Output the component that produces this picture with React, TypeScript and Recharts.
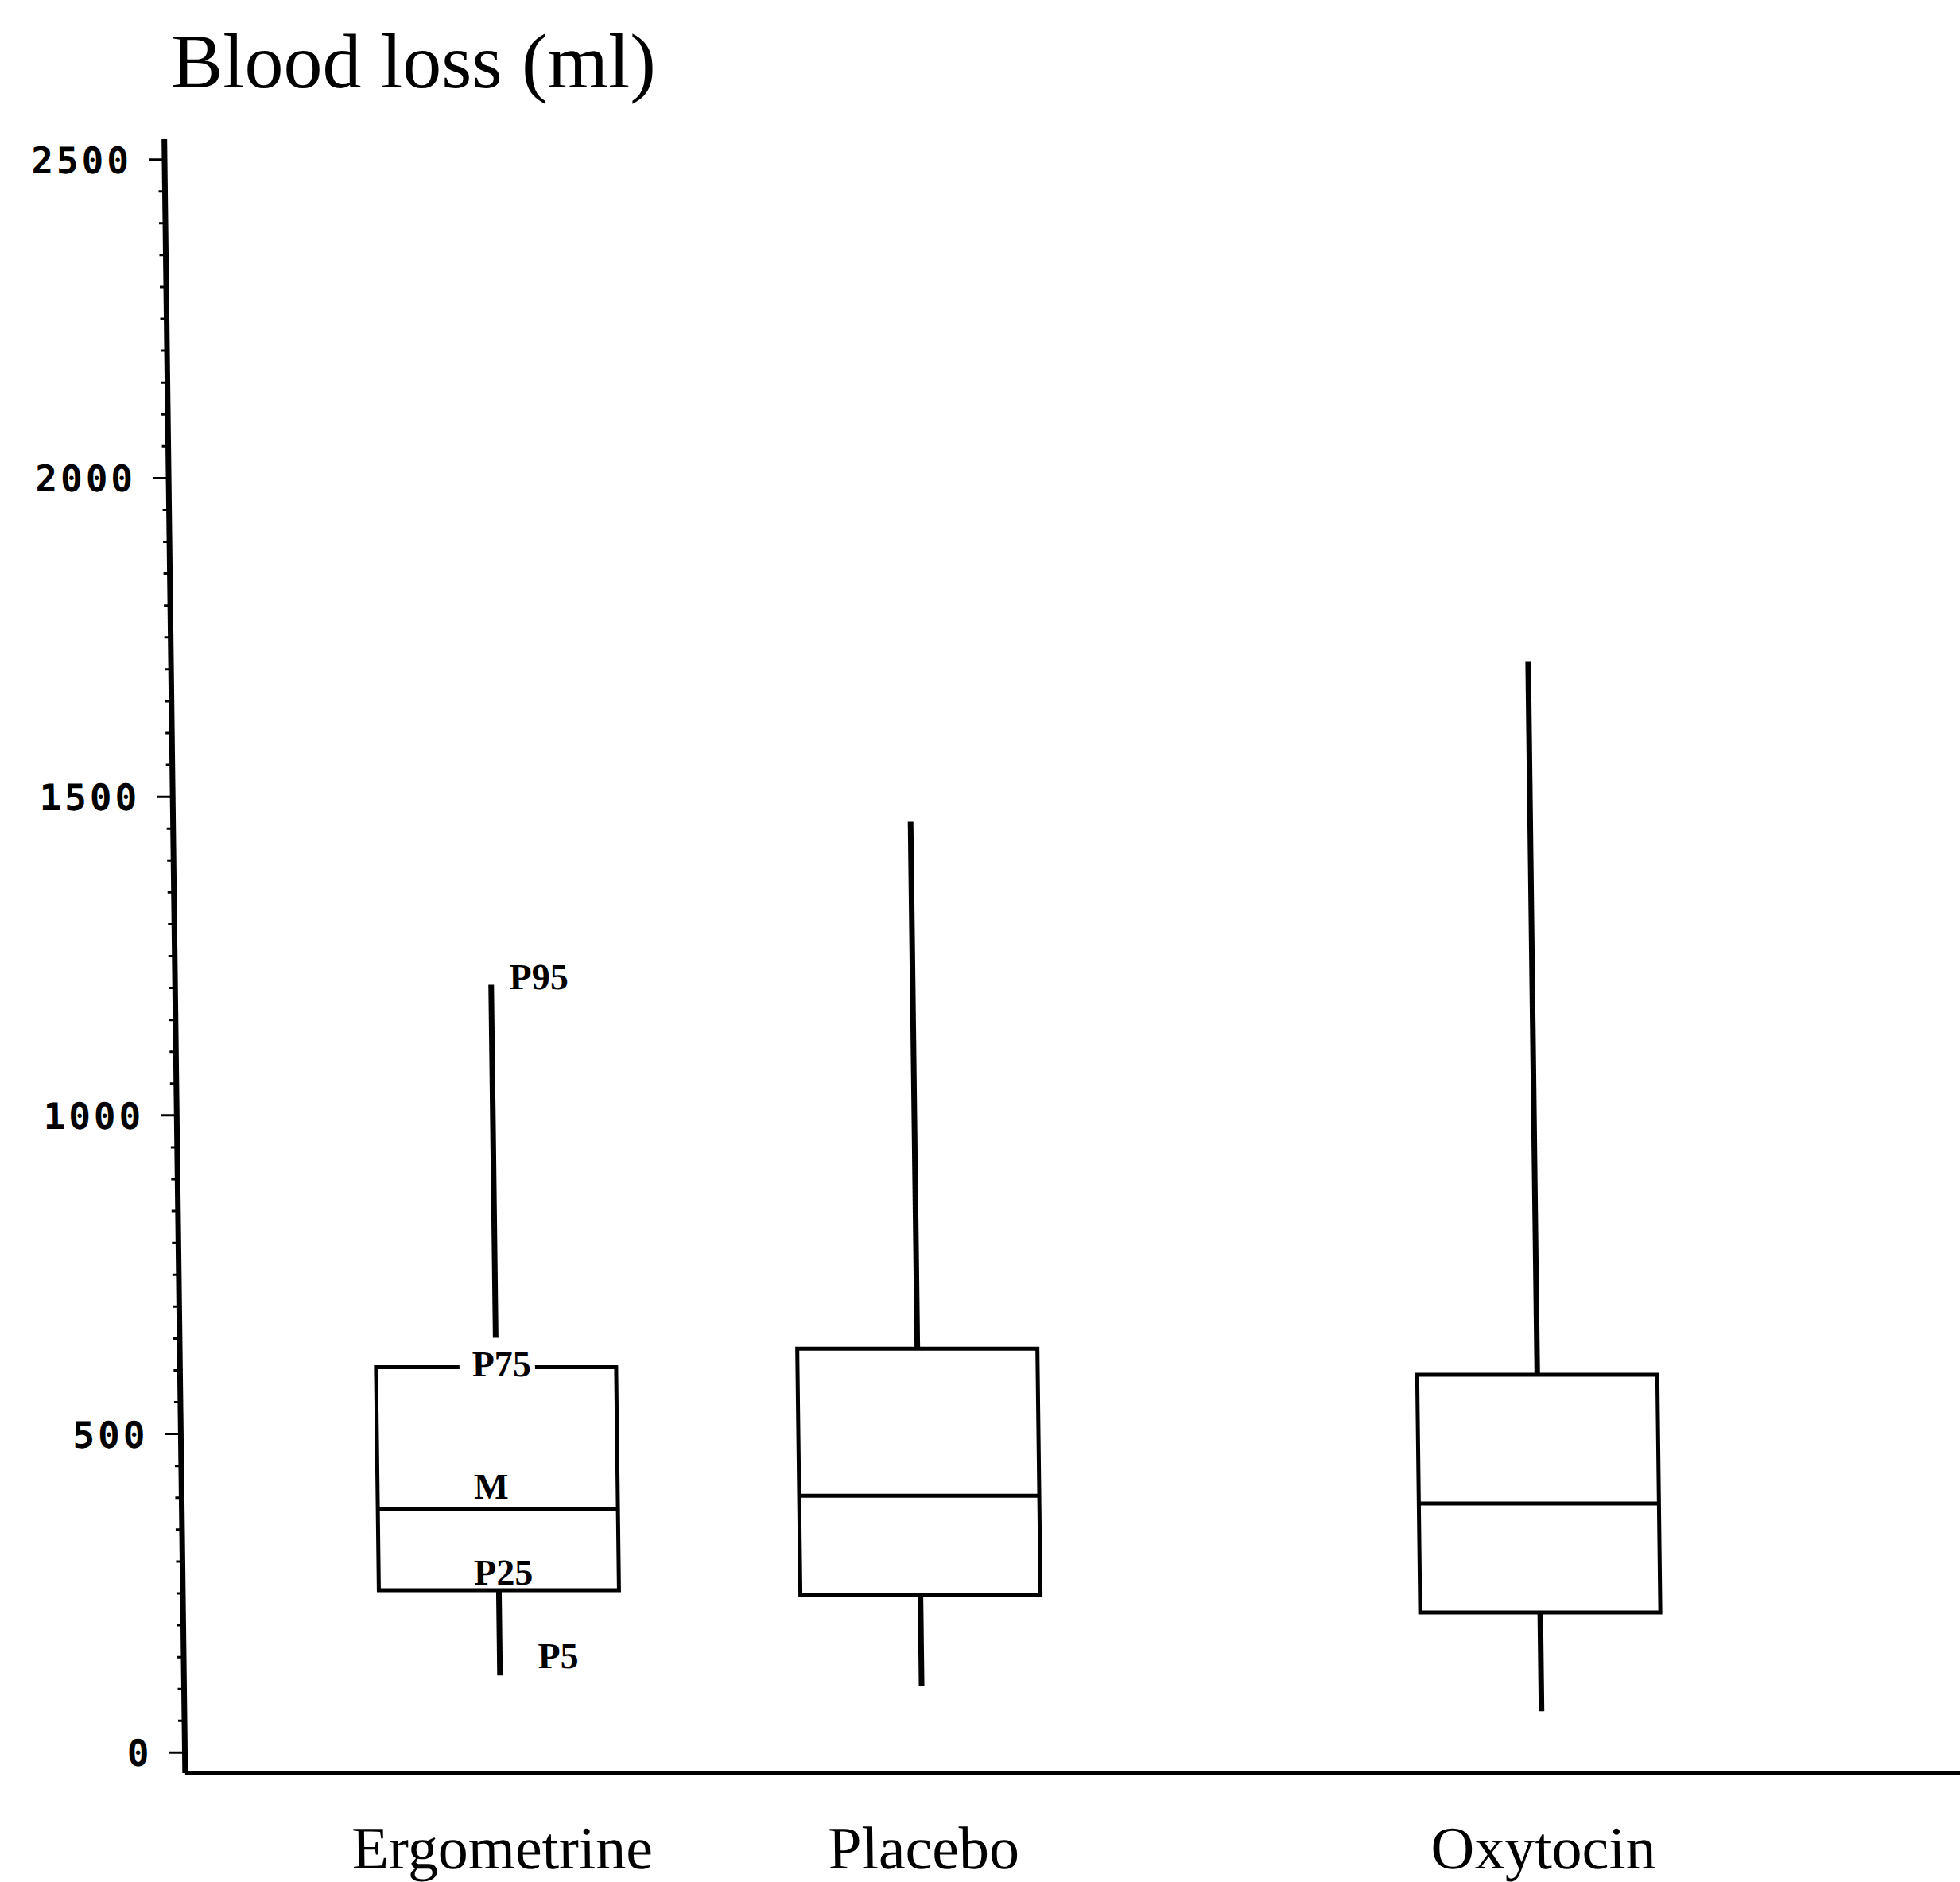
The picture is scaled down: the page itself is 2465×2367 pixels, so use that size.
import React from 'react'
import { ComposedChart, Bar, XAxis, YAxis } from 'recharts'

// groups and their place along the original x axis (unevenly spaced in the figure)
const groups = ['Ergometrine', 'Placebo', 'Oxytocin']
const groupX = [1, 2, 3.47]

// percentiles of blood loss (ml)
const p5 = [121, 105, 65]
const p25 = [255, 247, 220]
const median = [383, 403, 391]
const p75 = [605, 634, 593]
const p95 = [1205, 1461, 1713]

// the first box carries the percentile key
const annotatedGroup = 'Ergometrine'
const percentileNames = { p5: 'P5', p25: 'P25', median: 'M', p75: 'P75', p95: 'P95' }

const yTickLabels = [0, 500, 1000, 1500, 2000, 2500]
const minorStep = 50

const title = 'Blood loss (ml)'

const data = groups.map((name, i) => ({
  name,
  x: groupX[i],
  p5: p5[i],
  p25: p25[i],
  median: median[i],
  p75: p75[i],
  p95: p95[i],
  annotated: name === annotatedGroup,
}))

const yTicks: number[] = []
for (let v = 0; v <= 2500; v += minorStep) yTicks.push(v)

const W = 2465
const H = 2367
const serif = '"Liberation Serif", "Times New Roman", serif'
const mono = '"DejaVu Sans Mono", monospace'

function BoxShape(props: any) {
  const { x, y, width, height, payload } = props
  const top = Math.min(y, y + height)
  const h = Math.abs(height)
  const k = h / (payload.p95 - payload.p5)
  const py = (v: number) => top + (payload.p95 - v) * k
  const cx = x + width / 2
  const yHi = py(payload.p75)
  const yMed = py(payload.median)
  const yLo = py(payload.p25)
  // leave room for the P75 key above the box
  const whiskerStart = payload.annotated ? yHi - 37 : yHi

  return (
    <g>
      <line x1={cx} x2={cx} y1={py(payload.p95)} y2={whiskerStart} stroke="#000" strokeWidth={7} />
      <line x1={cx} x2={cx} y1={yLo} y2={py(payload.p5)} stroke="#000" strokeWidth={7} />
      <rect x={x} y={yHi} width={width} height={yLo - yHi} fill="none" stroke="#000" strokeWidth={5} />
      <line x1={x} x2={x + width} y1={yMed} y2={yMed} stroke="#000" strokeWidth={5} />
      {payload.annotated && (
        <g fontFamily={serif} fontSize={46} fontWeight="bold" fill="#000">
          <text x={cx + 23} y={py(payload.p95) + 5}>{percentileNames.p95}</text>
          <rect x={cx - 46} y={yHi - 8} width={95} height={16} fill="#fff" />
          <text x={cx + 7} y={yHi + 12} textAnchor="middle">{percentileNames.p75}</text>
          <text x={cx - 8} y={yMed - 12} textAnchor="middle">{percentileNames.median}</text>
          <text x={cx + 6} y={yLo - 7} textAnchor="middle">{percentileNames.p25}</text>
          <text x={cx + 48} y={py(payload.p5) - 9}>{percentileNames.p5}</text>
        </g>
      )}
    </g>
  )
}

function GroupTick({ x, y, payload }: any) {
  const i = groupX.indexOf(payload.value)
  return (
    <text x={x} y={y + 120} textAnchor="middle" fontFamily={serif} fontSize={76} fill="#000">
      {groups[i]}
    </text>
  )
}

function ValueTick({ x, y, payload }: any) {
  const v = payload.value
  const major = yTickLabels.includes(v)
  return (
    <g>
      <line x1={x - (major ? 20 : 8)} x2={x} y1={y} y2={y} stroke="#000" strokeWidth={3} />
      {major && (
        <text x={x - 41} y={y + 17} textAnchor="end" fontFamily={mono} fontWeight="bold" fontSize={46} letterSpacing={4} fill="#000">
          {v}
        </text>
      )}
    </g>
  )
}

export default function App() {
  return (
    <div style={{ position: 'absolute', left: 0, top: 0, width: W, height: H, background: '#fff', overflow: 'hidden' }}>
      <svg width={W} height={150} style={{ position: 'absolute', left: 0, top: 0 }}>
        <text x={215} y={110} fontFamily={serif} fontSize={98} fill="#000">{title}</text>
      </svg>
      <div style={{ position: 'absolute', left: 0, top: 0, transform: 'skewX(0.73deg)', transformOrigin: '0px 1850px' }}>
        <ComposedChart width={W} height={H} data={data} margin={{ top: 175, right: 0, bottom: 0, left: 8 }}>
          <XAxis
            type="number"
            dataKey="x"
            domain={[0.25, 4.47]}
            ticks={groupX}
            interval={0}
            allowDataOverflow
            height={137}
            tickSize={0}
            tickMargin={0}
            tickLine={false}
            tick={<GroupTick />}
            axisLine={{ stroke: '#000', strokeWidth: 6 }}
          />
          <YAxis
            type="number"
            domain={[-32, 2532]}
            ticks={yTicks}
            interval={0}
            allowDataOverflow
            width={220}
            tickSize={0}
            tickMargin={0}
            tickLine={false}
            tick={<ValueTick />}
            axisLine={{ stroke: '#000', strokeWidth: 7 }}
          />
          <Bar
            dataKey={(d: any) => [d.p5, d.p95]}
            barSize={302}
            fill="none"
            shape={<BoxShape />}
            isAnimationActive={false}
          />
        </ComposedChart>
      </div>
    </div>
  )
}
